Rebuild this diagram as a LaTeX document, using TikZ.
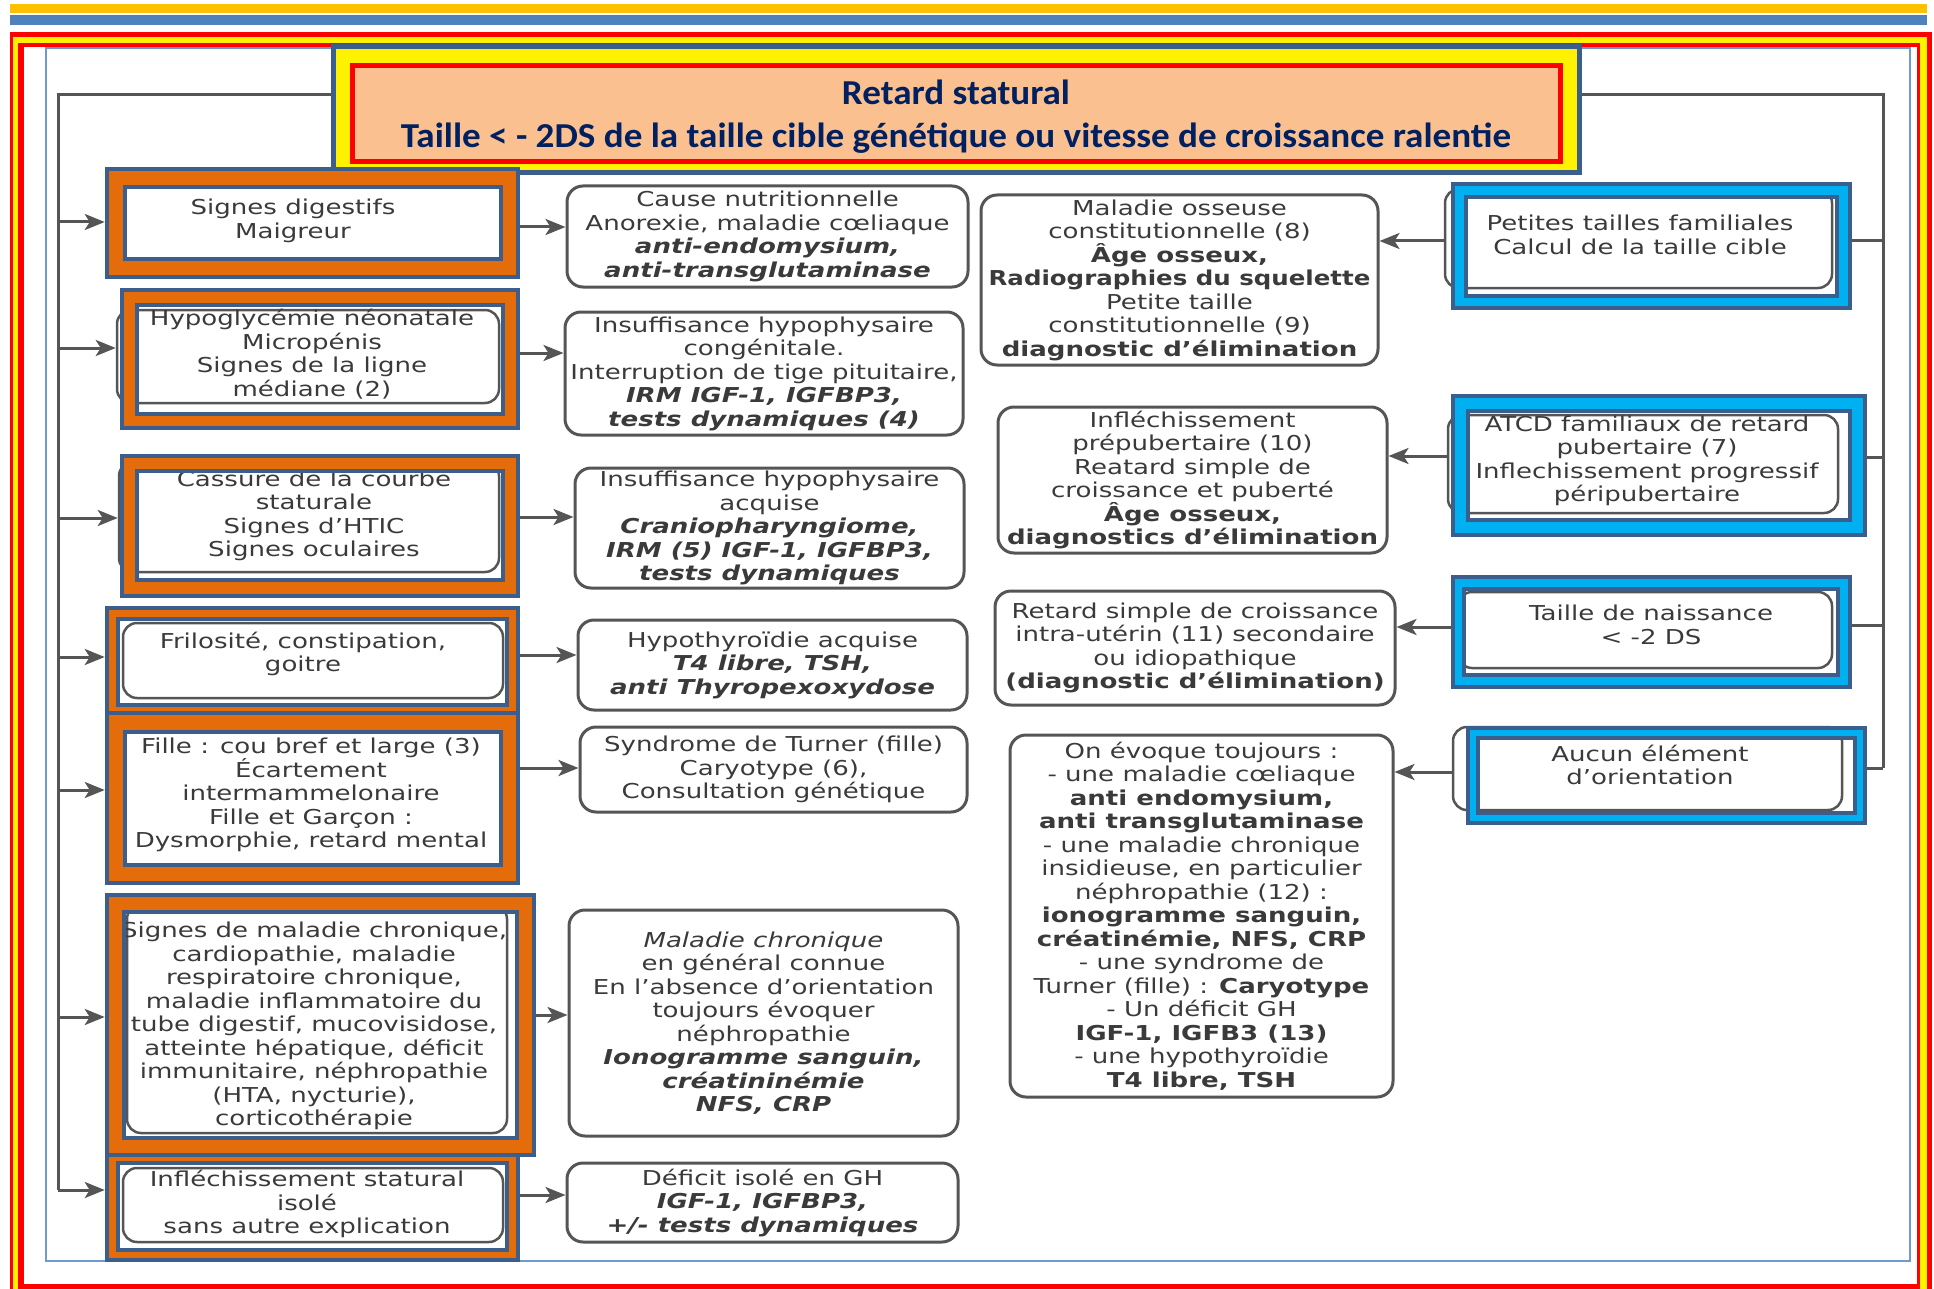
\documentclass[tikz,border=0pt]{standalone}
\usepackage{fontspec}
\usetikzlibrary{arrows.meta,fit}
\setmainfont{DejaVu Sans}[FakeStretch=1.27]
\newfontfamily\titlefont{Carlito}[FakeStretch=1.06]
\definecolor{orangeC}{HTML}{E46C0A}
\definecolor{frameC}{HTML}{3B5E8C}
\definecolor{lblueC}{HTML}{00B0F0}
\definecolor{titleC}{HTML}{002060}
\definecolor{peachC}{HTML}{FAC090}
\definecolor{amberC}{HTML}{FFC000}
\definecolor{bandC}{HTML}{4F81BD}
\definecolor{thinC}{HTML}{6F9AD0}
\definecolor{textC}{HTML}{3A3A3A}
\definecolor{lineC}{HTML}{555555}
\newcommand\bolditc[1]{\textbf{\textit{#1}}}
\tikzset{
  conn/.style={draw=lineC, line width=3pt},
  arr/.style={conn, -{Stealth[length=20pt,width=16pt,inset=5pt]}},
  txt/.style={text=textC, align=center, font=\fontsize{20.5}{23.5}\selectfont, inner sep=0pt},
  rbox/.style={draw=lineC, line width=3pt, rounded corners=16pt, fill=white, inner sep=0pt},
  ghost/.style={draw=lineC, line width=2.5pt, rounded corners=14pt, inner sep=0pt},
  frameline/.style={inner sep=0pt, draw=frameC, line width=4.5pt},
}
% #1 name, #2 ring colour, #3 #4 outer corners, #5 #6 inner corners, #7 text position, #8 text
\newcommand{\mkframe}[8]{%
  \fill[#2, even odd rule] #3 rectangle #4 #5 rectangle #6;
  \node[txt] at #7 {#8};
  \node[frameline, fit={#3 #4}] (#1) {};
  \node[frameline, fit={#5 #6}] (#1i) {};
}
% #1 name, #2 #3 corners, #4 text
\newcommand{\mkbox}[4]{%
  \node[rbox, fit={#2 #3}] (#1) {};
  \node[txt] (#1t) at (#1.center) {#4};
}
\begin{document}
\begin{tikzpicture}[x=1pt, y=-1pt]
\path[use as bounding box] (0,0) rectangle (1934,1289);
\fill[white] (0,0) rectangle (1934,1289);
% top bands
\fill[amberC] (10,4) rectangle (1927,13);
\fill[bandC] (10,15) rectangle (1927,25);
% outer frame
\fill[red] (10,32) rectangle (1932,1289);
\fill[yellow] (13.3,37.3) rectangle (1926.7,1289);
\fill[red] (18.3,42.7) rectangle (1920,1289);
\fill[white] (24,47.3) rectangle (1916.7,1284);
\draw[thinC, line width=1.5pt] (46,48) rectangle (1910,1261);

% title
\node[inner sep=0pt, fill=yellow, draw=frameC, line width=5pt, fit={(333,47) (1579,173)}] (title) {};
\node[inner sep=0pt, fill=peachC, draw=red, line width=5pt, fit={(352,66) (1560,162)}] (titlein) {};
\node[text=titleC, align=center, inner sep=0pt, font={\titlefont\bfseries\fontsize{35}{43}\selectfont}] (titletxt) at (956,117)
  {Retard statural\\Taille < - 2DS de la taille cible génétique ou vitesse de croissance ralentie};

% ghost boxes (partly hidden)
\node[ghost, fit={(117,310) (499,403)}] (b2g) {};
\node[ghost, fit={(119,462) (499,572)}] (b3g) {};
\node[ghost, fit={(123,623) (503,698)}] (b4g) {};
\node[ghost, fit={(127,905) (507,1133)}] (b6g) {};
\node[ghost, fit={(123,1168) (503,1242)}] (b7g) {};
\node[ghost, fit={(1445,189) (1832,288)}] (r1g) {};
\node[ghost, fit={(1448,415) (1838,513)}] (r2g) {};
\node[ghost, fit={(1458,592) (1832,668)}] (r3g) {};
\node[ghost, fit={(1453,727) (1842,810)}] (r4g) {};

% left framed boxes
\mkframe{b1}{orangeC}{(107,169)}{(518,277)}{(125,187)}{(501,259)}{(293,221)}
  {Signes digestifs\\Maigreur}
\mkframe{b2}{orangeC}{(122,290)}{(518,428)}{(137,305)}{(503,414)}{(312,354)}
  {Hypoglycémie néonatale\\Micropénis\\Signes de la ligne\\médiane (2)}
\mkframe{b3}{orangeC}{(122,456)}{(518,596)}{(137,471)}{(503,580)}{(314,516)}
  {Cassure de la courbe\\staturale\\Signes d'HTIC\\Signes oculaires}
\mkframe{b4}{orangeC}{(107,608)}{(518,713)}{(118,619)}{(507,705)}{(303,654)}
  {Frilosité, constipation,\\goitre}
\mkframe{b5}{orangeC}{(107,713)}{(518,883)}{(125,732)}{(501,865)}{(311,795)}
  {Fille : cou bref et large (3)\\Écartement\\intermammelonaire\\Fille et Garçon :\\Dysmorphie, retard mental}
\mkframe{b6}{orangeC}{(107,895)}{(534,1155)}{(124,912)}{(517,1138)}{(314,1026)}
  {Signes de maladie chronique,\\cardiopathie, maladie\\respiratoire chronique,\\maladie inflammatoire du\\tube digestif, mucovisidose,\\atteinte hépatique, déficit\\immunitaire, néphropathie\\(HTA, nycturie),\\corticothérapie}
\mkframe{b7}{orangeC}{(107,1155)}{(518,1260)}{(118,1163)}{(507,1250)}{(307,1204)}
  {Infléchissement statural\\isolé\\sans autre explication}

% right framed boxes
\mkframe{r1}{lblueC}{(1453,184)}{(1850,308)}{(1466,197)}{(1837,296)}{(1640,235)}
  {Petites tailles familiales\\Calcul de la taille cible}
\mkframe{r2}{lblueC}{(1453,396)}{(1865,535)}{(1468,411)}{(1850,520)}{(1647,461)}
  {ATCD familiaux de retard\\pubertaire (7)\\Inflechissement progressif\\péripubertaire}
\mkframe{r3}{lblueC}{(1453,577)}{(1850,687)}{(1464,589)}{(1838,675)}{(1651,625)}
  {Taille de naissance\\< -2 DS}
\mkframe{r4}{lblueC}{(1468,728)}{(1865,823)}{(1478,738)}{(1855,813)}{(1650,765)}
  {Aucun élément\\d'orientation}

% middle boxes
\mkbox{c1}{(567,186)}{(968,287)}
  {Cause nutritionnelle\\Anorexie, maladie cœliaque\\\bolditc{anti-endomysium,}\\\bolditc{anti-transglutaminase}}
\mkbox{c2}{(565,312)}{(963,435)}
  {Insuffisance hypophysaire\\congénitale.\\Interruption de tige pituitaire,\\\bolditc{IRM IGF-1, IGFBP3,}\\\bolditc{tests dynamiques (4)}}
\mkbox{c3}{(575,468)}{(964,588)}
  {Insuffisance hypophysaire\\acquise\\\bolditc{Craniopharyngiome,}\\\bolditc{IRM (5) IGF-1, IGFBP3,}\\\bolditc{tests dynamiques}}
\mkbox{c4}{(578,620)}{(967,710)}
  {Hypothyroïdie acquise\\\bolditc{T4 libre, TSH,}\\\bolditc{anti Thyropexoxydose}}
\mkbox{c5}{(580,727)}{(967,812)}
  {Syndrome de Turner (fille)\\Caryotype (6),\\Consultation génétique}
\mkbox{c6}{(569,910)}{(958,1136)}
  {\textit{Maladie chronique}\\en général connue\\En l'absence d'orientation\\toujours évoquer\\néphropathie\\\bolditc{Ionogramme sanguin,}\\\bolditc{créatininémie}\\\bolditc{NFS, CRP}}
\mkbox{c7}{(567,1163)}{(958,1242)}
  {Déficit isolé en GH\\\bolditc{IGF-1, IGFBP3,}\\\bolditc{+/- tests dynamiques}}

\mkbox{m1}{(981,195)}{(1378,365)}
  {Maladie osseuse\\constitutionnelle (8)\\\textbf{Âge osseux,}\\\scalebox{0.94}[1]{\textbf{Radiographies du squelette}}\\Petite taille\\constitutionnelle (9)\\\textbf{diagnostic d'élimination}}
\mkbox{m2}{(998,407)}{(1387,553)}
  {Infléchissement\\prépubertaire (10)\\Reatard simple de\\croissance et puberté\\\textbf{Âge osseux,}\\\textbf{diagnostics d'élimination}}
\mkbox{m3}{(995,591)}{(1395,705)}
  {Retard simple de croissance\\intra-utérin (11) secondaire\\ou idiopathique\\\textbf{(diagnostic d'élimination)}}
\mkbox{m4}{(1010,735)}{(1393,1097)}
  {On évoque toujours :\\- une maladie cœliaque\\\textbf{anti endomysium,}\\\textbf{anti transglutaminase}\\- une maladie chronique\\insidieuse, en particulier\\néphropathie (12) :\\\textbf{ionogramme sanguin,}\\\textbf{créatinémie, NFS, CRP}\\- une syndrome de\\Turner (fille) : \textbf{Caryotype}\\- Un déficit GH\\\textbf{IGF-1, IGFB3 (13)}\\- une hypothyroïdie\\\textbf{T4 libre, TSH}}

% spines
\coordinate (LS) at (58,95);
\coordinate (LE) at (58,1190);
\coordinate (RS) at (1883,95);
\coordinate (RE) at (1883,768);
\draw[conn] (title.west |- LS) -- (LS) -- (LE);
\draw[conn] (title.east |- RS) -- (RS) -- (RE);

% spine to left boxes
\draw[arr] (LS |- 0,222) -- (b1.west |- 0,222);
\draw[arr] (LS |- 0,348) -- (b2g.west |- 0,348);
\draw[arr] (LS |- 0,518) -- (b3g.west |- 0,518);
\draw[arr] (LS |- 0,657) -- (b4.west |- 0,657);
\draw[arr] (LS |- 0,790) -- (b5.west |- 0,790);
\draw[arr] (LS |- 0,1017) -- (b6.west |- 0,1017);
\draw[arr] (LE) -- (b7.west |- LE);

% left boxes to causes
\draw[arr] (b1.east |- 0,227) -- (c1.west |- 0,227);
\draw[arr] (b2.east |- 0,353) -- (c2.west |- 0,353);
\draw[arr] (b3.east |- 0,517) -- (c3.west |- 0,517);
\draw[arr] (b4.east |- 0,655) -- (c4.west |- 0,655);
\draw[arr] (b5.east |- 0,768) -- (c5.west |- 0,768);
\draw[arr] (b6.east |- 0,1015) -- (c6.west |- 0,1015);
\draw[arr] (b7.east |- 0,1195) -- (c7.west |- 0,1195);

% right spine to right boxes
\draw[conn] (r1.east |- 0,241) -- (RS |- 0,241);
\draw[conn] (r2.east |- 0,457) -- (RS |- 0,457);
\draw[conn] (r3.east |- 0,625) -- (RS |- 0,625);
\draw[conn] (r4.east |- RE) -- (RE);

% right boxes to diagnoses
\draw[arr] (r1g.west |- 0,241) -- (m1.east |- 0,241);
\draw[arr] (r2g.west |- 0,456) -- (m2.east |- 0,456);
\draw[arr] (r3.west |- 0,627) -- (m3.east |- 0,627);
\draw[arr] (r4g.west |- 0,772) -- (m4.east |- 0,772);
\end{tikzpicture}
\end{document}
